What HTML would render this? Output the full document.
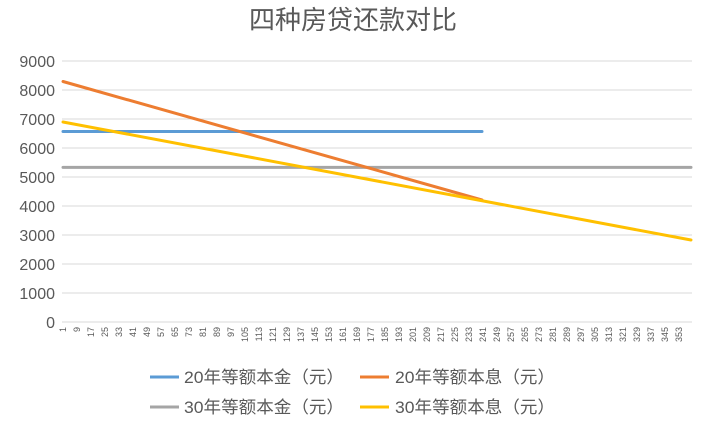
<!DOCTYPE html>
<html><head><meta charset="utf-8"><style>
body{margin:0;background:#fff;}
svg{display:block;font-family:"Liberation Sans","Noto Sans CJK SC",sans-serif;}
</style></head><body>
<svg width="705" height="432" viewBox="0 0 705 432">
<rect width="705" height="432" fill="#fff"/>
<text x="353" y="29" text-anchor="middle" font-size="26" fill="#595959">四种房贷还款对比</text>
<g stroke="#d9d9d9" stroke-width="1">
<line x1="62" x2="692" y1="61" y2="61"/><line x1="62" x2="692" y1="90" y2="90"/>
<line x1="62" x2="692" y1="119" y2="119"/><line x1="62" x2="692" y1="148" y2="148"/>
<line x1="62" x2="692" y1="177" y2="177"/><line x1="62" x2="692" y1="206" y2="206"/>
<line x1="62" x2="692" y1="235" y2="235"/><line x1="62" x2="692" y1="264" y2="264"/>
<line x1="62" x2="692" y1="293" y2="293"/><line x1="62" x2="692" y1="322" y2="322"/>
</g>
<g font-size="16" fill="#595959" text-anchor="end">
<text x="55" y="67">9000</text><text x="55" y="96">8000</text><text x="55" y="125">7000</text>
<text x="55" y="154">6000</text><text x="55" y="183">5000</text><text x="55" y="212">4000</text>
<text x="55" y="241">3000</text><text x="55" y="270">2000</text><text x="55" y="299">1000</text>
<text x="55" y="328">0</text>
</g>
<g font-size="9" fill="#595959" text-anchor="end">
<text transform="translate(66,327) rotate(-90)">1</text>
<text transform="translate(80,327) rotate(-90)">9</text>
<text transform="translate(94,327) rotate(-90)">17</text>
<text transform="translate(108,327) rotate(-90)">25</text>
<text transform="translate(122,327) rotate(-90)">33</text>
<text transform="translate(136,327) rotate(-90)">41</text>
<text transform="translate(150,327) rotate(-90)">49</text>
<text transform="translate(164,327) rotate(-90)">57</text>
<text transform="translate(178,327) rotate(-90)">65</text>
<text transform="translate(192,327) rotate(-90)">73</text>
<text transform="translate(206,327) rotate(-90)">81</text>
<text transform="translate(220,327) rotate(-90)">89</text>
<text transform="translate(234,327) rotate(-90)">97</text>
<text transform="translate(248,327) rotate(-90)">105</text>
<text transform="translate(262,327) rotate(-90)">113</text>
<text transform="translate(276,327) rotate(-90)">121</text>
<text transform="translate(290,327) rotate(-90)">129</text>
<text transform="translate(304,327) rotate(-90)">137</text>
<text transform="translate(318,327) rotate(-90)">145</text>
<text transform="translate(332,327) rotate(-90)">153</text>
<text transform="translate(346,327) rotate(-90)">161</text>
<text transform="translate(360,327) rotate(-90)">169</text>
<text transform="translate(374,327) rotate(-90)">177</text>
<text transform="translate(388,327) rotate(-90)">185</text>
<text transform="translate(402,327) rotate(-90)">193</text>
<text transform="translate(416,327) rotate(-90)">201</text>
<text transform="translate(430,327) rotate(-90)">209</text>
<text transform="translate(444,327) rotate(-90)">217</text>
<text transform="translate(458,327) rotate(-90)">225</text>
<text transform="translate(472,327) rotate(-90)">233</text>
<text transform="translate(486,327) rotate(-90)">241</text>
<text transform="translate(500,327) rotate(-90)">249</text>
<text transform="translate(514,327) rotate(-90)">257</text>
<text transform="translate(528,327) rotate(-90)">265</text>
<text transform="translate(542,327) rotate(-90)">273</text>
<text transform="translate(556,327) rotate(-90)">281</text>
<text transform="translate(570,327) rotate(-90)">289</text>
<text transform="translate(584,327) rotate(-90)">297</text>
<text transform="translate(598,327) rotate(-90)">305</text>
<text transform="translate(612,327) rotate(-90)">313</text>
<text transform="translate(626,327) rotate(-90)">321</text>
<text transform="translate(640,327) rotate(-90)">329</text>
<text transform="translate(654,327) rotate(-90)">337</text>
<text transform="translate(668,327) rotate(-90)">345</text>
<text transform="translate(682,327) rotate(-90)">353</text>
</g>
<g stroke-width="3" stroke-linecap="round">
<line x1="63" y1="131.5" x2="482" y2="131.5" stroke="#5b9bd5"/>
<line x1="63" y1="167.4" x2="691" y2="167.4" stroke="#a5a5a5"/>
<line x1="63" y1="81.5" x2="482" y2="200" stroke="#ed7d31"/>
<line x1="63" y1="122" x2="691" y2="240" stroke="#ffc000"/>
</g>
<g font-size="17" fill="#595959">
<line x1="150" x2="179" y1="377" y2="377" stroke="#5b9bd5" stroke-width="3"/>
<text x="184" y="383" textLength="160" lengthAdjust="spacingAndGlyphs">20年等额本金（元）</text>
<line x1="360" x2="389" y1="377" y2="377" stroke="#ed7d31" stroke-width="3"/>
<text x="395" y="383" textLength="160" lengthAdjust="spacingAndGlyphs">20年等额本息（元）</text>
<line x1="150" x2="179" y1="407" y2="407" stroke="#a5a5a5" stroke-width="3"/>
<text x="184" y="413" textLength="160" lengthAdjust="spacingAndGlyphs">30年等额本金（元）</text>
<line x1="360" x2="389" y1="407" y2="407" stroke="#ffc000" stroke-width="3"/>
<text x="395" y="413" textLength="160" lengthAdjust="spacingAndGlyphs">30年等额本息（元）</text>
</g>
</svg>
</body></html>
